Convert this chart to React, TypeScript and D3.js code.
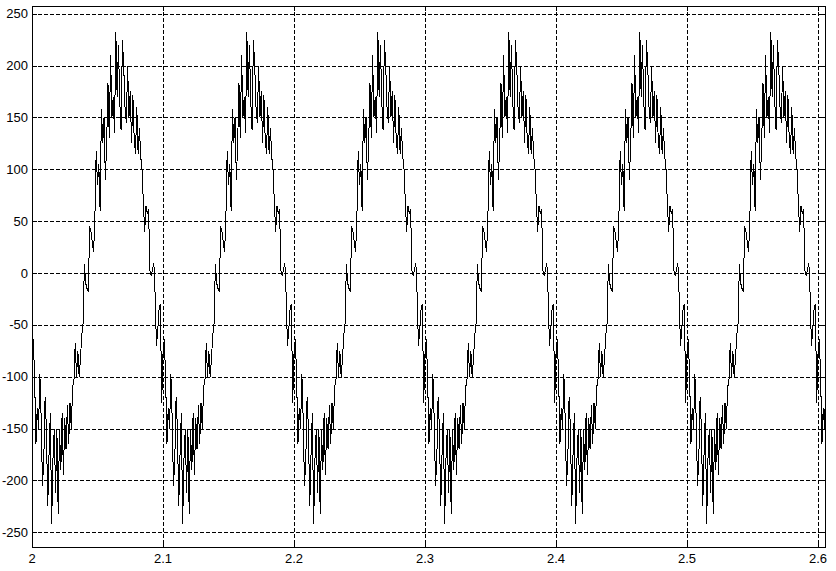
import React from "react";
import * as d3 from "d3";

// Axis ticks
const X_TICKS = [2, 2.1, 2.2, 2.3, 2.4, 2.5, 2.6];
const X_TICK_LABELS = ["2", "2.1", "2.2", "2.3", "2.4", "2.5", "2.6"];
const Y_TICKS = [-250, -200, -150, -100, -50, 0, 50, 100, 150, 200, 250];
const Y_TICK_LABELS = ["-250", "-200", "-150", "-100", "-50", "0", "50", "100", "150", "200", "250"];

// Axis limits
const X_DOMAIN = [2, 2.6061];
const Y_DOMAIN = [-264.2, 257.4];

const PERIOD_VALUES = [
  -78, -64, -100, -165, -130, -150, -97, -140, -205, -180,
  -120, -150, -225, -175, -135, -242, -180, -150, -212, -150,
  -232, -150, -190, -135, -195, -140, -170, -127, -165, -125,
  -150, -110, -105, -68, -100, -75, -100, -82, -60, -48,
  9, -10, -15, -18, 45, 40, 30, 20, 53, 118,
  85, 105, 60, 158, 125, 150, 90, 125, 183, 130,
  210, 150, 170, 135, 232, 170, 220, 165, 138, 225,
  200, 160, 145, 200, 150, 175, 125, 172, 130, 115,
  160, 115, 140, 112, 100, 68, 40, 65, 57, 62,
  2, -3, 3, 10, -22, -70, -55, -35, -30, -125,
];
const T_START = 2;
const SAMPLE_STEP = 0.001;
const SAMPLE_COUNT = 607;

const W = 836;
const H = 571;
const L = 32, R = 826, T = 6, B = 547;

export default function App() {
  const x = d3.scaleLinear().domain(X_DOMAIN).range([L, R]);
  const y = d3.scaleLinear().domain(Y_DOMAIN).range([B, T]);

  const data: [number, number][] = [];
  for (let i = 0; i < SAMPLE_COUNT; i++) {
    data.push([T_START + i * SAMPLE_STEP, PERIOD_VALUES[i % PERIOD_VALUES.length]]);
  }
  const line = d3
    .line<[number, number]>()
    .x((d) => x(d[0]))
    .y((d) => y(d[1]));

  const font = "'Liberation Sans', Arial, sans-serif";
  const px = (v: number) => Math.round(v) + 0.5;

  return (
    <svg
      width={W}
      height={H}
      style={{ position: "absolute", left: 0, top: 0, background: "#fff" }}
    >
      <rect x={0} y={0} width={W} height={H} fill="#fff" />
      <defs>
        <clipPath id="plotclip">
          <rect x={L} y={T} width={R - L} height={B - T} />
        </clipPath>
      </defs>
      {/* grid */}
      <g stroke="#000" strokeWidth={1} strokeDasharray="4,2" shapeRendering="crispEdges">
        {X_TICKS.map((t) => (
          <line key={"gx" + t} x1={px(x(t))} x2={px(x(t))} y1={T} y2={B} />
        ))}
        {Y_TICKS.map((t) => (
          <line key={"gy" + t} x1={L} x2={R} y1={px(y(t))} y2={px(y(t))} />
        ))}
      </g>
      {/* ticks */}
      <g stroke="#000" strokeWidth={1} shapeRendering="crispEdges">
        {X_TICKS.map((t) => (
          <g key={"tx" + t}>
            <line x1={px(x(t))} x2={px(x(t))} y1={B} y2={B - 5} />
            <line x1={px(x(t))} x2={px(x(t))} y1={T} y2={T + 5} />
          </g>
        ))}
        {Y_TICKS.map((t) => (
          <g key={"ty" + t}>
            <line x1={L} x2={L + 5} y1={px(y(t))} y2={px(y(t))} />
            <line x1={R} x2={R - 5} y1={px(y(t))} y2={px(y(t))} />
          </g>
        ))}
      </g>
      {/* trace */}
      <path
        d={line(data) || ""}
        fill="none"
        stroke="#000"
        strokeWidth={1}
        clipPath="url(#plotclip)"
        shapeRendering="crispEdges"
      />
      {/* box */}
      <rect
        x={L + 0.5}
        y={T + 0.5}
        width={R - L - 1}
        height={B - T}
        fill="none"
        stroke="#000"
        strokeWidth={1}
        shapeRendering="crispEdges"
      />
      {/* labels */}
      <g fontFamily={font} fontSize={13} fill="#000">
        {Y_TICKS.map((t, i) => (
          <text key={"ly" + t} x={28} y={y(t) + 4.6} textAnchor="end">
            {Y_TICK_LABELS[i]}
          </text>
        ))}
        {X_TICKS.map((t, i) => (
          <text key={"lx" + t} x={x(t)} y={563} textAnchor="middle">
            {X_TICK_LABELS[i]}
          </text>
        ))}
      </g>
    </svg>
  );
}
